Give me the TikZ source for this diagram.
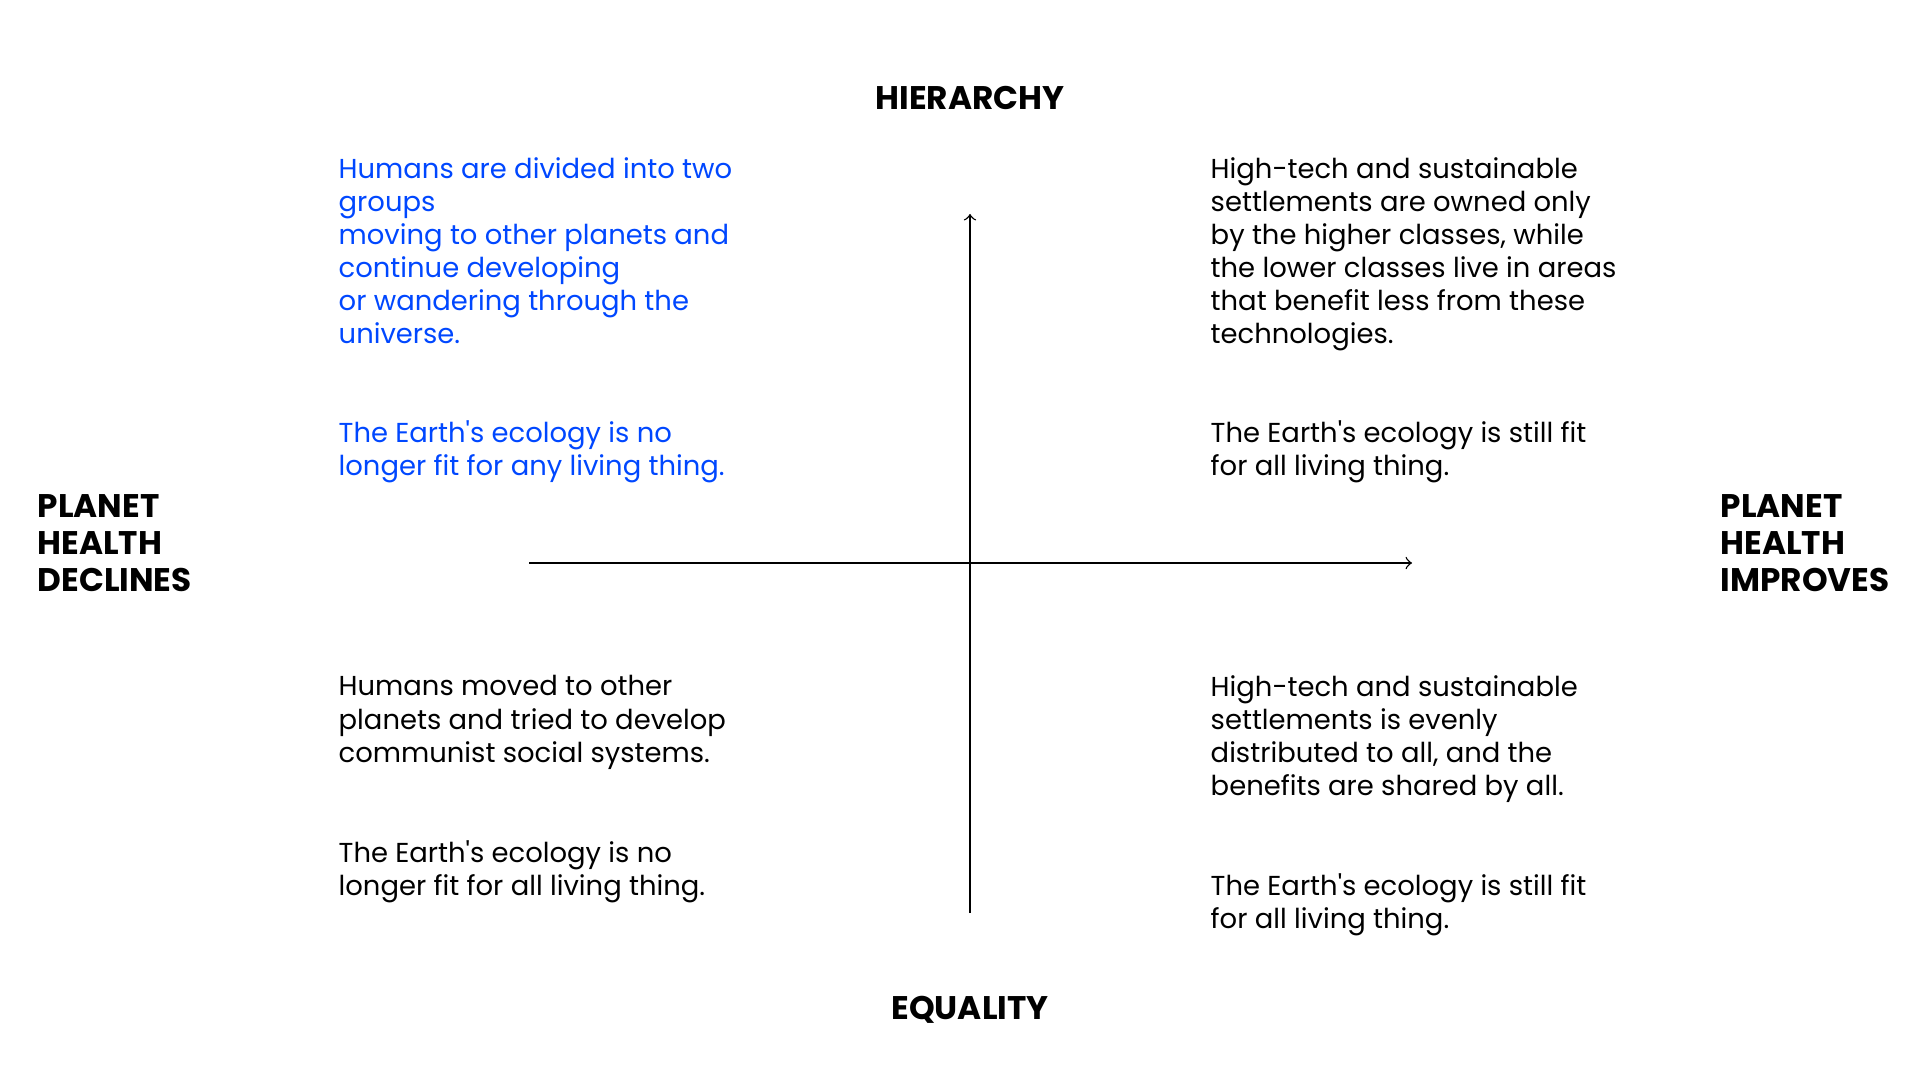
\documentclass[tikz,border=0pt]{standalone}
\usepackage{xcolor}
\usepackage{fontspec}
\setmainfont{Poppins}
\usepackage{tikz}
\definecolor{ScenarioBlue}{RGB}{0,71,255}

\begin{document}
\begin{tikzpicture}[
    axislabel/.style={
        inner sep=0pt,
        font=\bfseries\fontsize{9.3}{10.5}\selectfont
    },
    blurb/.style={
        anchor=north west,
        align=left,
        inner sep=0pt,
        font=\fontsize{7.8}{9.4}\selectfont
    },
    axis/.style={
        ->,
        line width=0.4pt
    }
]

\useasboundingbox (0,0) rectangle (19.2,-10.8);

\node[axislabel] (hierarchy) at (9.70,-0.98) {HIERARCHY};
\node[axislabel] (equality) at (9.70,-10.10) {EQUALITY};

\node[axislabel, anchor=west, align=left] (declines) at (0.37,-5.43)
    {PLANET\\HEALTH\\DECLINES};
\node[axislabel, anchor=west, align=left] (improves) at (17.20,-5.43)
    {PLANET\\HEALTH\\IMPROVES};


\coordinate (top) at (9.70,-2.14);
\coordinate (bottom) at (9.70,-9.13);
\coordinate (left) at (5.29,-5.63);
\coordinate (right) at (14.12,-5.63);

\draw[axis] (bottom) -- (top);
\draw[axis] (left) -- (right);


\node[blurb, text=ScenarioBlue] (tlscenario) at (3.38,-1.57)
    {Humans are divided into two\\
     groups\\
     moving to other planets and\\
     continue developing\\
     or wandering through the\\
     universe.};

\node[blurb, text=ScenarioBlue] (tlecology) at (3.38,-4.20)
    {The Earth\textquotesingle s ecology is no\\
     longer fit for any living thing.};


\node[blurb] (trscenario) at (12.10,-1.57)
    {High-tech and sustainable\\
     settlements are owned only\\
     by the higher classes, while\\
     the lower classes live in areas\\
     that benefit less from these\\
     technologies.};

\node[blurb] (trecology) at (12.10,-4.20)
    {The Earth\textquotesingle s ecology is still fit\\
     for all living thing.};


\node[blurb] (blscenario) at (3.38,-6.75)
    {Humans moved to other\\
     planets and tried to develop\\
     communist social systems.};

\node[blurb] (blecology) at (3.38,-8.40)
    {The Earth\textquotesingle s ecology is no\\
     longer fit for all living thing.};


\node[blurb] (brscenario) at (12.10,-6.75)
    {High-tech and sustainable\\
     settlements is evenly\\
     distributed to all, and the\\
     benefits are shared by all.};

\node[blurb] (brecology) at (12.10,-8.73)
    {The Earth\textquotesingle s ecology is still fit\\
     for all living thing.};

\end{tikzpicture}
\end{document}
